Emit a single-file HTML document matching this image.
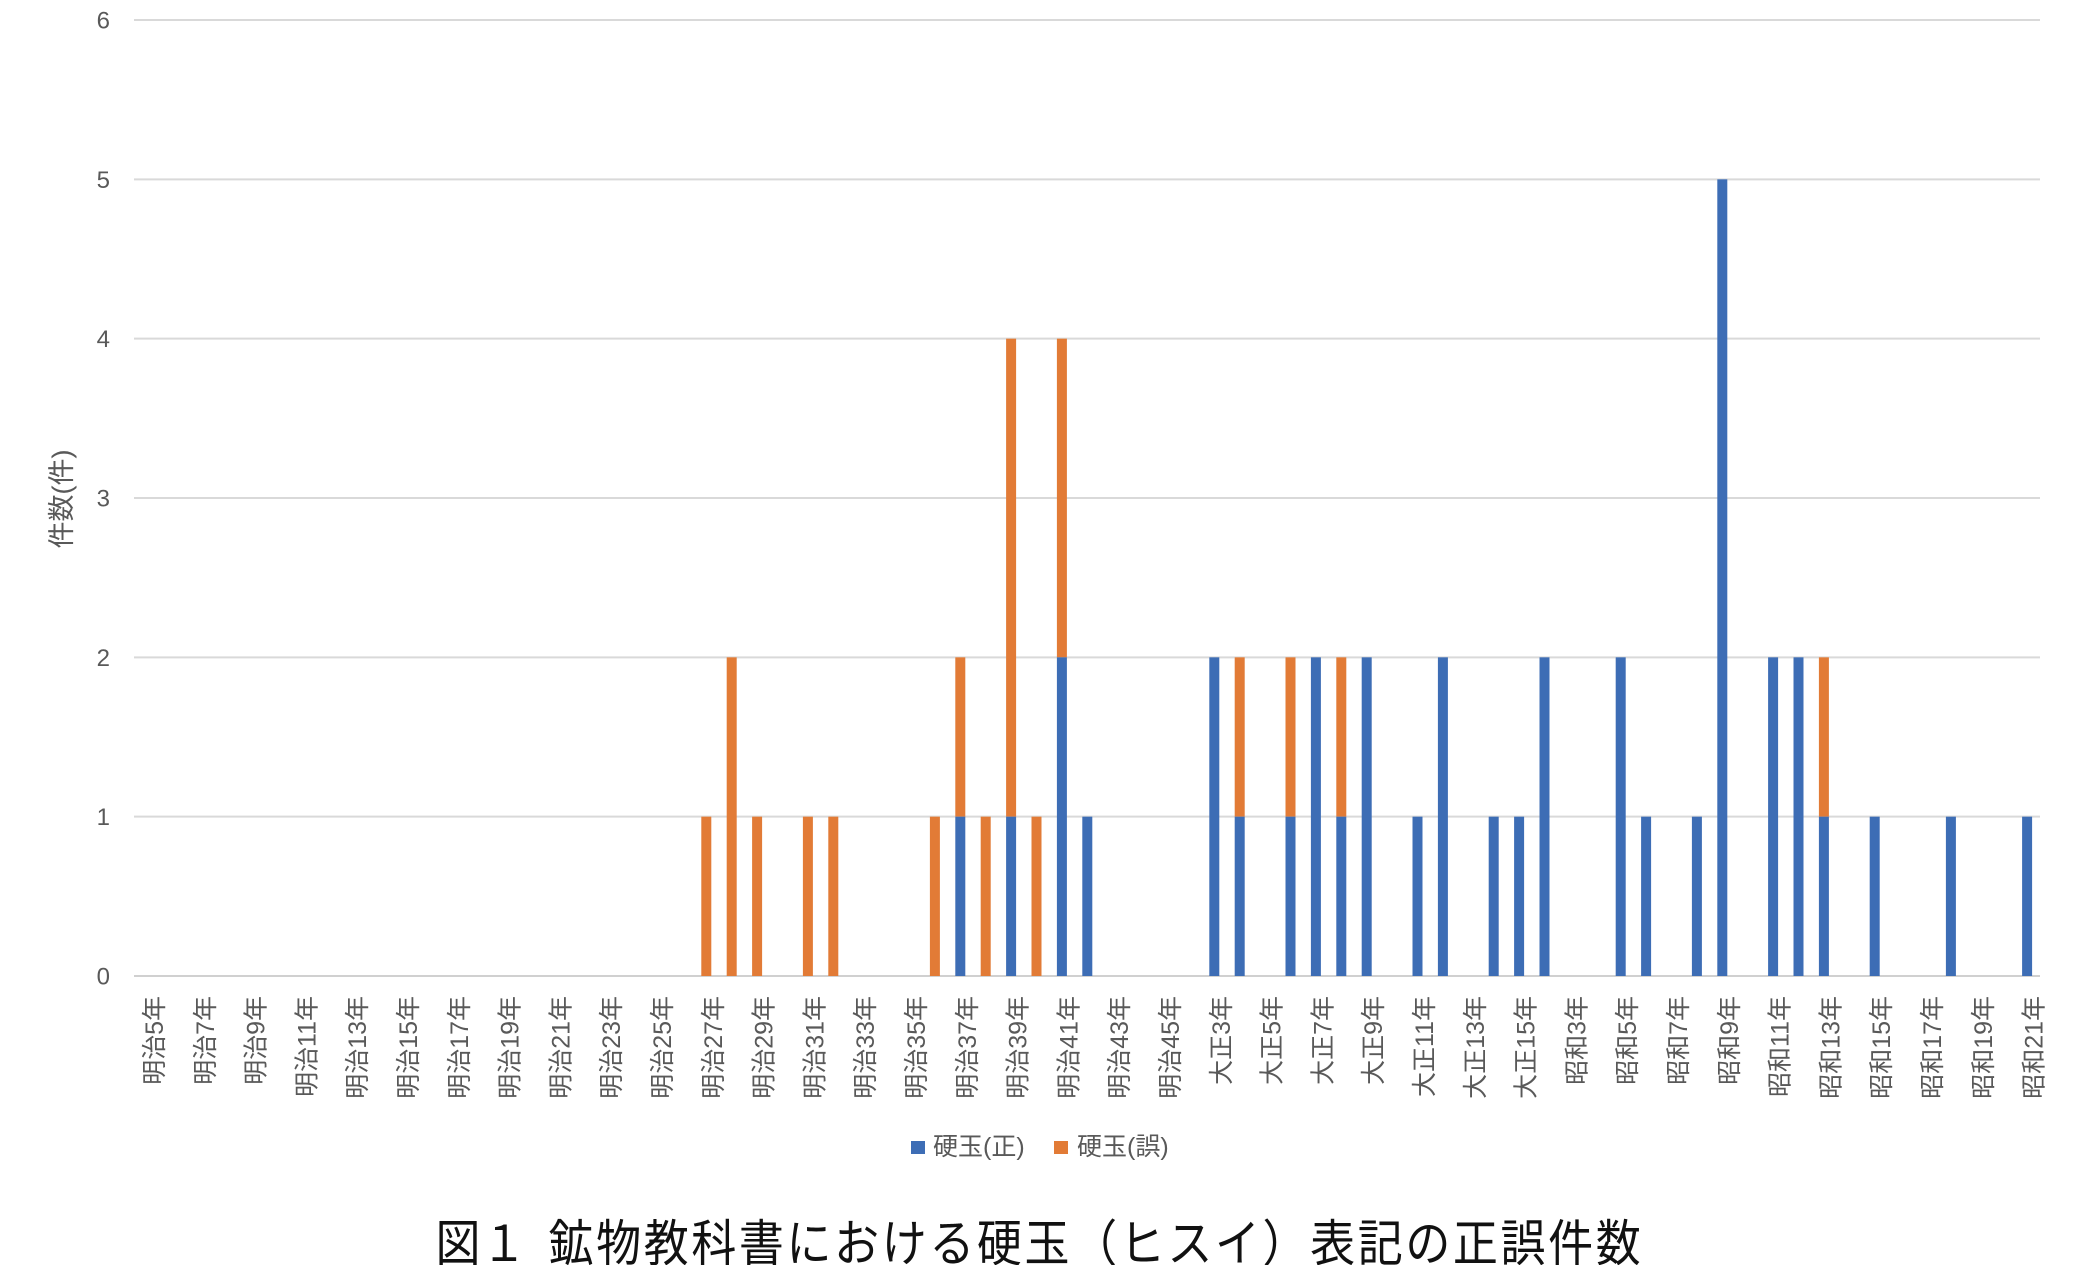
<!DOCTYPE html>
<html><head><meta charset="utf-8"><style>
html,body{margin:0;padding:0;background:#fff;}
svg{display:block;}
.t{font-family:"Liberation Sans","Noto Sans CJK JP",sans-serif;fill:#595959;}
.c{font-family:"Liberation Sans","Noto Sans CJK JP",sans-serif;fill:#111;font-size:50px;}
</style></head><body>
<svg width="2073" height="1265" viewBox="0 0 2073 1265" xmlns="http://www.w3.org/2000/svg">
<rect width="2073" height="1265" fill="#fff"/>
<g stroke="#d9d9d9" stroke-width="2">
<line x1="134" y1="20" x2="2040" y2="20"/>
<line x1="134" y1="179.33" x2="2040" y2="179.33"/>
<line x1="134" y1="338.67" x2="2040" y2="338.67"/>
<line x1="134" y1="498" x2="2040" y2="498"/>
<line x1="134" y1="657.33" x2="2040" y2="657.33"/>
<line x1="134" y1="816.67" x2="2040" y2="816.67"/>
<line x1="134" y1="976" x2="2040" y2="976" stroke="#d0d0d0"/>
</g>
<g class="t" font-size="24" text-anchor="end">
<text x="110" y="28.5">6</text>
<text x="110" y="187.8">5</text>
<text x="110" y="347.2">4</text>
<text x="110" y="506.5">3</text>
<text x="110" y="665.8">2</text>
<text x="110" y="825.2">1</text>
<text x="110" y="984.5">0</text>
</g>
<text class="t" font-size="27" text-anchor="middle" transform="translate(71,499) rotate(-90)">件数(件)</text>
<g fill="#e27b36">
<rect x="701.3" y="816.67" width="10" height="159.33"/>
<rect x="726.7" y="657.33" width="10" height="318.67"/>
<rect x="752.1" y="816.67" width="10" height="159.33"/>
<rect x="802.9" y="816.67" width="10" height="159.33"/>
<rect x="828.3" y="816.67" width="10" height="159.33"/>
<rect x="929.9" y="816.67" width="10" height="159.33"/>
<rect x="955.3" y="657.33" width="10" height="159.34"/>
<rect x="980.7" y="816.67" width="10" height="159.33"/>
<rect x="1006.1" y="338.67" width="10" height="478"/>
<rect x="1031.5" y="816.67" width="10" height="159.33"/>
<rect x="1056.9" y="338.67" width="10" height="318.66"/>
<rect x="1234.7" y="657.33" width="10" height="159.34"/>
<rect x="1285.5" y="657.33" width="10" height="159.34"/>
<rect x="1336.3" y="657.33" width="10" height="159.34"/>
<rect x="1818.9" y="657.33" width="10" height="159.34"/>
</g>
<g fill="#3d6db5">
<rect x="955.3" y="816.67" width="10" height="159.33"/>
<rect x="1006.1" y="816.67" width="10" height="159.33"/>
<rect x="1056.9" y="657.33" width="10" height="318.67"/>
<rect x="1082.3" y="816.67" width="10" height="159.33"/>
<rect x="1209.3" y="657.33" width="10" height="318.67"/>
<rect x="1234.7" y="816.67" width="10" height="159.33"/>
<rect x="1285.5" y="816.67" width="10" height="159.33"/>
<rect x="1310.9" y="657.33" width="10" height="318.67"/>
<rect x="1336.3" y="816.67" width="10" height="159.33"/>
<rect x="1361.7" y="657.33" width="10" height="318.67"/>
<rect x="1412.5" y="816.67" width="10" height="159.33"/>
<rect x="1437.9" y="657.33" width="10" height="318.67"/>
<rect x="1488.7" y="816.67" width="10" height="159.33"/>
<rect x="1514.1" y="816.67" width="10" height="159.33"/>
<rect x="1539.5" y="657.33" width="10" height="318.67"/>
<rect x="1615.7" y="657.33" width="10" height="318.67"/>
<rect x="1641.1" y="816.67" width="10" height="159.33"/>
<rect x="1691.9" y="816.67" width="10" height="159.33"/>
<rect x="1717.3" y="179.33" width="10" height="796.67"/>
<rect x="1768.1" y="657.33" width="10" height="318.67"/>
<rect x="1793.5" y="657.33" width="10" height="318.67"/>
<rect x="1818.9" y="816.67" width="10" height="159.33"/>
<rect x="1869.7" y="816.67" width="10" height="159.33"/>
<rect x="1945.9" y="816.67" width="10" height="159.33"/>
<rect x="2022.1" y="816.67" width="10" height="159.33"/>
</g>
<g class="t" font-size="25" text-anchor="end">
<text transform="translate(163,996) rotate(-90)">明治5年</text>
<text transform="translate(213.8,996) rotate(-90)">明治7年</text>
<text transform="translate(264.6,996) rotate(-90)">明治9年</text>
<text transform="translate(315.4,996) rotate(-90)">明治11年</text>
<text transform="translate(366.2,996) rotate(-90)">明治13年</text>
<text transform="translate(417,996) rotate(-90)">明治15年</text>
<text transform="translate(467.8,996) rotate(-90)">明治17年</text>
<text transform="translate(518.6,996) rotate(-90)">明治19年</text>
<text transform="translate(569.4,996) rotate(-90)">明治21年</text>
<text transform="translate(620.2,996) rotate(-90)">明治23年</text>
<text transform="translate(671,996) rotate(-90)">明治25年</text>
<text transform="translate(721.8,996) rotate(-90)">明治27年</text>
<text transform="translate(772.6,996) rotate(-90)">明治29年</text>
<text transform="translate(823.4,996) rotate(-90)">明治31年</text>
<text transform="translate(874.2,996) rotate(-90)">明治33年</text>
<text transform="translate(925,996) rotate(-90)">明治35年</text>
<text transform="translate(975.8,996) rotate(-90)">明治37年</text>
<text transform="translate(1026.6,996) rotate(-90)">明治39年</text>
<text transform="translate(1077.4,996) rotate(-90)">明治41年</text>
<text transform="translate(1128.2,996) rotate(-90)">明治43年</text>
<text transform="translate(1179,996) rotate(-90)">明治45年</text>
<text transform="translate(1229.8,996) rotate(-90)">大正3年</text>
<text transform="translate(1280.6,996) rotate(-90)">大正5年</text>
<text transform="translate(1331.4,996) rotate(-90)">大正7年</text>
<text transform="translate(1382.2,996) rotate(-90)">大正9年</text>
<text transform="translate(1433,996) rotate(-90)">大正11年</text>
<text transform="translate(1483.8,996) rotate(-90)">大正13年</text>
<text transform="translate(1534.6,996) rotate(-90)">大正15年</text>
<text transform="translate(1585.4,996) rotate(-90)">昭和3年</text>
<text transform="translate(1636.2,996) rotate(-90)">昭和5年</text>
<text transform="translate(1687,996) rotate(-90)">昭和7年</text>
<text transform="translate(1737.8,996) rotate(-90)">昭和9年</text>
<text transform="translate(1788.6,996) rotate(-90)">昭和11年</text>
<text transform="translate(1839.4,996) rotate(-90)">昭和13年</text>
<text transform="translate(1890.2,996) rotate(-90)">昭和15年</text>
<text transform="translate(1941,996) rotate(-90)">昭和17年</text>
<text transform="translate(1991.8,996) rotate(-90)">昭和19年</text>
<text transform="translate(2042.6,996) rotate(-90)">昭和21年</text>
</g>
<rect x="911" y="1141" width="14" height="13" fill="#3d6db5"/>
<text class="t" x="933" y="1155" font-size="25">硬玉(正)</text>
<rect x="1054" y="1141" width="14" height="13" fill="#e27b36"/>
<text class="t" x="1077" y="1155" font-size="25">硬玉(誤)</text>
<g class="c" text-anchor="middle">
<text transform="translate(458,1261) scale(0.9,1)">図</text>
<text transform="translate(504,1261) scale(0.9,1)">１</text>
<text transform="translate(571,1261) scale(0.9,1)">鉱</text>
<text transform="translate(618.6,1261) scale(0.9,1)">物</text>
<text transform="translate(666.2,1261) scale(0.9,1)">教</text>
<text transform="translate(713.8,1261) scale(0.9,1)">科</text>
<text transform="translate(761.4,1261) scale(0.9,1)">書</text>
<text transform="translate(809,1261) scale(0.9,1)">に</text>
<text transform="translate(856.6,1261) scale(0.9,1)">お</text>
<text transform="translate(904.2,1261) scale(0.9,1)">け</text>
<text transform="translate(951.8,1261) scale(0.9,1)">る</text>
<text transform="translate(999.4,1261) scale(0.9,1)">硬</text>
<text transform="translate(1047,1261) scale(0.9,1)">玉</text>
<text transform="translate(1094.6,1261) scale(0.9,1)">（</text>
<text transform="translate(1142.2,1261) scale(0.9,1)">ヒ</text>
<text transform="translate(1189.8,1261) scale(0.9,1)">ス</text>
<text transform="translate(1237.4,1261) scale(0.9,1)">イ</text>
<text transform="translate(1285,1261) scale(0.9,1)">）</text>
<text transform="translate(1332.6,1261) scale(0.9,1)">表</text>
<text transform="translate(1380.2,1261) scale(0.9,1)">記</text>
<text transform="translate(1427.8,1261) scale(0.9,1)">の</text>
<text transform="translate(1475.4,1261) scale(0.9,1)">正</text>
<text transform="translate(1523,1261) scale(0.9,1)">誤</text>
<text transform="translate(1570.6,1261) scale(0.9,1)">件</text>
<text transform="translate(1618.2,1261) scale(0.9,1)">数</text>
</g>
</svg>
</body></html>
